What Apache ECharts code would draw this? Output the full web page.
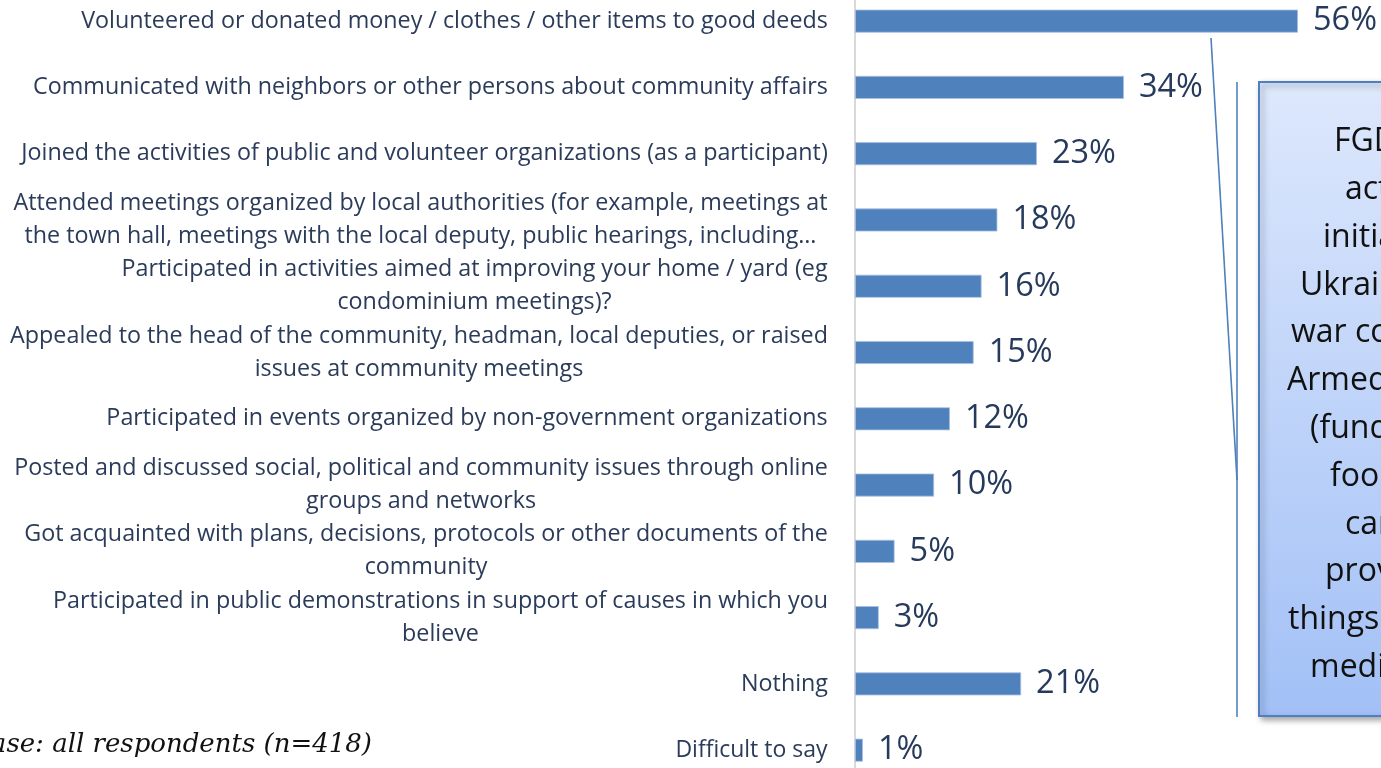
<!DOCTYPE html>
<html>
<head>
<meta charset="utf-8">
<script src="https://cdn.jsdelivr.net/npm/echarts@6/dist/echarts.min.js"></script>
<style>
  html, body { margin: 0; padding: 0; background: #ffffff; }
  #chart { width: 1381px; height: 768px; }
</style>
</head>
<body>
<div id="chart"></div>
<script>
// Survey answers, listed top to bottom
const categories = [
  'Volunteered or donated money / clothes / other items to good deeds',
  'Communicated with neighbors or other persons about community affairs',
  'Joined the activities of public and volunteer organizations (as a participant)',
  'Attended meetings organized by local authorities (for example, meetings at\nthe town hall, meetings with the local deputy, public hearings, including…',
  'Participated in activities aimed at improving your home / yard (eg\ncondominium meetings)?',
  'Appealed to the head of the community, headman, local deputies, or raised\nissues at community meetings',
  'Participated in events organized by non-government organizations',
  'Posted and discussed social, political and community issues through online\ngroups and networks',
  'Got acquainted with plans, decisions, protocols or other documents of the\ncommunity',
  'Participated in public demonstrations in support of causes in which you\nbelieve',
  'Nothing',
  'Difficult to say'
];
// Share of respondents, %
const values = [56, 34, 23, 18, 16, 15, 12, 10, 5, 3, 21, 1];

const baseNote = 'Base: all respondents (n=418)';
const calloutLines = [
  'FGD: the most', 'active', 'initiatives of', 'Ukrainians during',
  'war concerned the', 'Armed Forces', '(funds, clothes,', 'food, etc.) and',
  'care for IDPs,', 'providing them', 'things and', 'medicines'
];

const FONT = 'Open Sans';
const LABEL_SIZE = 23.3;
const SMALL_SIZE = 23;
const TEXT_COLOR = '#2b3b5a';

// measure each label so its lines can be centred inside a right-aligned block
const ctx = document.createElement('canvas').getContext('2d');
const rich = {};
categories.forEach((c, i) => {
  const size = i === categories.length - 1 ? SMALL_SIZE : LABEL_SIZE;
  ctx.font = size + 'px "' + FONT + '"';
  const w = Math.ceil(Math.max(...c.split('\n').map(l => ctx.measureText(l).width)));
  rich['r' + i] = {
    width: w, align: 'center', fontFamily: FONT, fontSize: size,
    lineHeight: 33, color: TEXT_COLOR
  };
});

const chart = echarts.init(document.getElementById('chart'), null, { renderer: 'canvas' });

const calloutTextX = [1334, 1345, 1323, 1300, 1291, 1287, 1310, 1330, 1345, 1325, 1288, 1310];

const option = {
  animation: false,
  backgroundColor: '#ffffff',
  grid: {
    left: 855, top: -12, width: 474.6, height: 795.3,
    containLabel: false, outerBoundsMode: 'none'
  },
  xAxis: {
    type: 'value', min: 0, max: 60,
    show: false
  },
  yAxis: {
    type: 'category',
    data: categories,
    inverse: true,
    axisLine: { show: true, lineStyle: { color: '#d9d9d9', width: 2 } },
    axisTick: { show: false },
    axisLabel: {
      margin: 27,
      align: 'right',
      formatter: (v, idx) => v.split('\n').map(l => '{r' + idx + '|' + l + '}').join('\n'),
      rich: rich
    }
  },
  series: [{
    type: 'bar',
    data: values,
    barWidth: 23,
    itemStyle: { color: '#4f81bd', borderColor: '#a7c0e2', borderWidth: 0.8 },
    label: {
      show: true,
      position: 'right',
      distance: 15,
      formatter: '{c}%',
      fontFamily: FONT,
      fontSize: 32.5,
      color: '#263a5c'
    }
  }],
  graphic: [
    // leader line from the top bar to the bracket
    { type: 'line', silent: true, shape: { x1: 1211, y1: 38, x2: 1237, y2: 480 },
      style: { stroke: '#4f81bd', lineWidth: 1.6 } },
    { type: 'line', silent: true, shape: { x1: 1237, y1: 82, x2: 1237, y2: 717 },
      style: { stroke: '#4f81bd', lineWidth: 1.6 } },
    // callout box
    { type: 'rect', silent: true,
      shape: { x: 1259, y: 82, width: 240, height: 634 },
      style: {
        fill: new echarts.graphic.LinearGradient(0, 0, 0, 1, [
          { offset: 0, color: '#dde8fc' },
          { offset: 1, color: '#a2c0f6' }
        ]),
        stroke: '#4f7fc0', lineWidth: 2,
        shadowBlur: 6, shadowOffsetX: 3, shadowOffsetY: 3, shadowColor: 'rgba(0,0,0,0.35)'
      }
    },
    ...calloutLines.map((t, i) => ({
      type: 'text', silent: true,
      style: {
        x: calloutTextX[i], y: 142 + i * 47.8, text: t,
        fontFamily: FONT, fontSize: 32, fill: '#111111',
        textAlign: 'left', textVerticalAlign: 'middle'
      }
    })),
    // sample base note
    { type: 'text', silent: true,
      style: {
        x: 372, y: 745, text: baseNote,
        fontFamily: 'DejaVu Serif', fontStyle: 'italic', fontSize: 26,
        fill: '#111111', textAlign: 'right', textVerticalAlign: 'middle'
      }
    }
  ]
};

chart.setOption(option);
</script>
</body>
</html>
